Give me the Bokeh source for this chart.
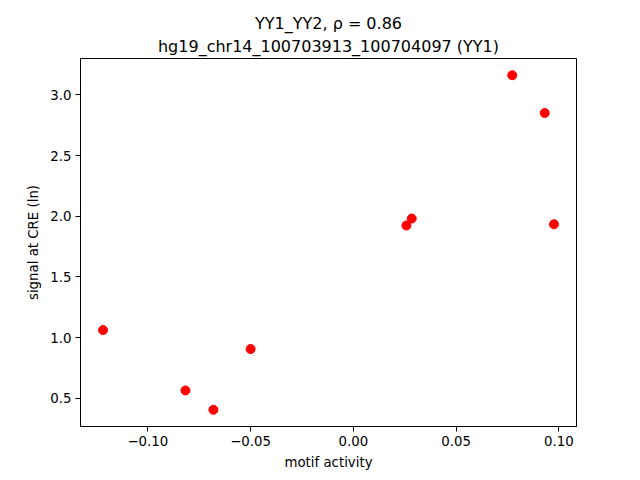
from bokeh.plotting import figure
from bokeh.models import Title, FixedTicker, Range1d
from bokeh.embed import file_html
from bokeh.resources import INLINE

motif_activity = [-0.1218, -0.0817, -0.0681, -0.0500, 0.0258, 0.0284, 0.0773, 0.0931, 0.0976]
signal = [1.063, 0.566, 0.407, 0.907, 1.924, 1.981, 3.161, 2.850, 1.934]

x_ticks = [-0.10, -0.05, 0.00, 0.05, 0.10]
x_tick_labels = ["\u22120.10", "\u22120.05", "0.00", "0.05", "0.10"]
y_ticks = [0.5, 1.0, 1.5, 2.0, 2.5, 3.0]
y_tick_labels = ["0.5", "1.0", "1.5", "2.0", "2.5", "3.0"]

title_line1 = "YY1_YY2, \u03c1 = 0.86"
title_line2 = "hg19_chr14_100703913_100704097 (YY1)"

xmin, xmax = min(motif_activity), max(motif_activity)
ymin, ymax = min(signal), max(signal)
dx, dy = (xmax - xmin) * 0.05, (ymax - ymin) * 0.05

p = figure(width=632, height=472, output_backend="svg", toolbar_location=None,
           x_range=Range1d(xmin - dx, xmax + dx), y_range=Range1d(ymin - dy, ymax + dy),
           min_border_left=80, min_border_right=56, min_border_top=58, min_border_bottom=45)

font = "DejaVu Sans"
for txt, so in [(title_line2, 5), (title_line1, 0)]:
    t = Title(text=txt, align="center", text_font=font, text_font_size="16px",
              text_font_style="normal", text_color="black", standoff=so)
    p.add_layout(t, "above")

p.scatter(motif_activity, signal, size=9, color="red", line_color="red")

p.xgrid.visible = False
p.ygrid.visible = False
p.outline_line_color = "black"
p.outline_line_width = 1

p.xaxis.ticker = FixedTicker(ticks=x_ticks)
p.xaxis.major_label_overrides = {t: l for t, l in zip(x_ticks, x_tick_labels)}
p.yaxis.ticker = FixedTicker(ticks=y_ticks)
p.yaxis.major_label_overrides = {t: l for t, l in zip(y_ticks, y_tick_labels)}

p.xaxis.axis_label = "motif activity"
p.yaxis.axis_label = "signal at CRE (ln)"

for ax in [p.xaxis[0], p.yaxis[0]]:
    ax.axis_label_text_font = font
    ax.axis_label_text_font_size = "13.33px"
    ax.axis_label_text_font_style = "normal"
    ax.axis_label_text_color = "black"
    ax.major_label_text_font = font
    ax.major_label_text_font_size = "13.33px"
    ax.major_label_text_color = "black"
    ax.major_tick_out = 5
    ax.major_tick_in = 0
    ax.minor_tick_out = 0
    ax.minor_tick_in = 0
    ax.axis_line_color = "black"
    ax.major_tick_line_color = "black"
    ax.major_label_standoff = 4
    ax.axis_label_standoff = 6

open("out.html", "w").write(file_html(p, INLINE))
